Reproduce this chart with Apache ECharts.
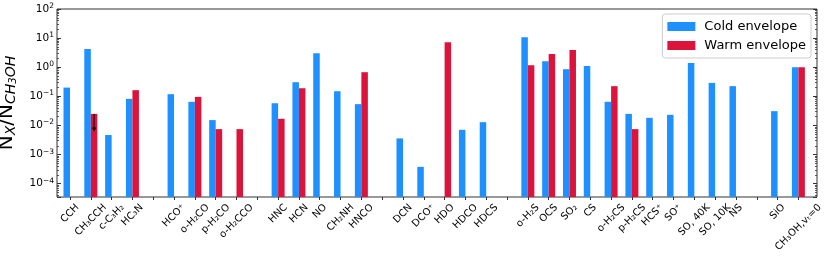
<!DOCTYPE html>
<html><head><meta charset="utf-8">
<script src="https://cdn.jsdelivr.net/npm/echarts@6/dist/echarts.min.js"></script>
<style>html,body{margin:0;padding:0;background:#fff}#c{width:830px;height:262px}</style>
</head><body><div id="c"></div>
<script>
// ---- data ----
const categories = ['CCH','CH₃CCH','c-C₃H₂','HC₃N','_1',
  'HCO⁺','o-H₂CO','p-H₂CO','o-H₂CCO','_2',
  'HNC','HCN','NO','CH₂NH','HNCO','_3',
  'DCN','DCO⁺','HDO','HDCO','HDCS','_4',
  'o-H₂S','OCS','SO₂','CS','o-H₂CS','p-H₂CS','HCS⁺','SO⁺','SO, 40K','SO, 10K','NS','_5',
  'SiO','CH₃OH,vₜ=0'];
const coldValues = [0.20, 4.25, 0.0047, 0.082, null,
  0.119, 0.065, 0.0153, null, null,
  0.058, 0.306, 3.0, 0.15, 0.054, null,
  0.0036, 0.00038, null, 0.0071, 0.013, null,
  10.7, 1.6, 0.855, 1.11, 0.065, 0.025, 0.0183, 0.0232, 1.41, 0.29, 0.224, null,
  0.031, 1.0];
const warmValues = [null, 0.025, null, 0.163, null,
  null, 0.096, 0.0075, 0.0075, null,
  0.017, 0.19, null, null, 0.676, null,
  null, null, 7.2, null, null, null,
  1.17, 2.87, 3.93, null, 0.224, 0.0075, null, null, null, null, null, null,
  null, 1.0];
// upper limit arrow: [category index, from value, to value]
const upperLimits = [[1, 0.025, 0.0062]];
const seriesNames = ['Cold envelope', 'Warm envelope'];
const yMin = 3.5e-5, yMax = 100;

// ---- styles ----
const FONT = 'DejaVu Sans';
const BLUE = '#1E90FF', RED = '#DC143C', AX = '#333';
const BAR_W = 6.5;
const LABEL_FS = 10;

const ctx = document.createElement('canvas').getContext('2d');
ctx.font = LABEL_FS + 'px "' + FONT + '"';
const labelWidths = categories.map(c => c.startsWith('_') ? 0 : ctx.measureText(c).width);

const gridTop = 9, gridH = 188;
const chart = echarts.init(document.getElementById('c'), null, { renderer: 'canvas' });

function yLabel(v) {
  const l = Math.log10(v);
  const e = Math.round(l);
  if (Math.abs(l - e) > 1e-6) return '';
  return '{b|10}{s|' + (e < 0 ? '\u2212' : '') + Math.abs(e) + '}';
}

const option = {
  animation: false,
  backgroundColor: '#fff',
  textStyle: { fontFamily: FONT },
  grid: [
    { left: 57, top: gridTop, width: 760, height: gridH, show: true, borderColor: AX, borderWidth: 1, backgroundColor: 'transparent', containLabel: false, outerBoundsMode: 'none' },
    { left: 59.6, top: gridTop, width: 749.2, height: gridH, show: false, containLabel: false, outerBoundsMode: 'none' }
  ],
  legend: {
    orient: 'vertical', right: 19, top: 14,
    data: seriesNames,
    icon: 'rect', itemWidth: 28, itemHeight: 9, itemGap: 4,
    padding: [5, 5, 5, 5],
    borderColor: '#ccc', borderWidth: 1, borderRadius: 3, backgroundColor: '#fff',
    textStyle: { fontFamily: FONT, fontSize: 13, color: '#000', lineHeight: 15, padding: [0, 0, 0, 4] }
  },
  xAxis: [
    { gridIndex: 0, type: 'value', min: 0, max: 1, show: false },
    { gridIndex: 1, type: 'category', data: categories, boundaryGap: true,
      axisLine: { show: false },
      axisTick: { show: true, alignWithLabel: true, interval: 0, length: 3, inside: false, lineStyle: { color: AX, width: 1 } },
      axisLabel: { show: false },
      splitLine: { show: false } }
  ],
  yAxis: [
    { gridIndex: 0, type: 'log', logBase: 10, min: yMin, max: yMax, position: 'left',
      axisLine: { show: false },
      axisTick: { show: true, inside: true, length: 4, lineStyle: { color: AX, width: 1 } },
      minorTick: { show: true, splitNumber: 9, length: 2, lineStyle: { color: AX, width: 0.8 } },
      splitLine: { show: false },
      axisLabel: { show: true, margin: 3, formatter: yLabel, color: '#000',
        rich: { b: { fontFamily: FONT, fontSize: 10.5, color: '#000', lineHeight: 14 },
                s: { fontFamily: FONT, fontSize: 7.5, color: '#000', lineHeight: 7, verticalAlign: 'top' } } },
      name: '{m|N}{s|X}{m|/N}{s|CH}{ss|3}{s|OH}',
      nameLocation: 'middle', nameRotate: 90, nameGap: 32,
      nameTextStyle: { rich: {
        m: { fontFamily: FONT, fontSize: 20, color: '#000', lineHeight: 24 },
        s: { fontFamily: FONT, fontSize: 14, fontStyle: 'italic', color: '#000', lineHeight: 14, verticalAlign: 'bottom' },
        ss: { fontFamily: FONT, fontSize: 10, fontStyle: 'italic', color: '#000', lineHeight: 7, verticalAlign: 'bottom' } } } },
    { gridIndex: 0, type: 'log', logBase: 10, min: yMin, max: yMax, position: 'right',
      axisLine: { show: false },
      axisTick: { show: true, inside: true, length: 4, lineStyle: { color: AX, width: 1 } },
      minorTick: { show: true, splitNumber: 9, length: 2, lineStyle: { color: AX, width: 0.8 } },
      splitLine: { show: false }, axisLabel: { show: false } },
    { gridIndex: 1, type: 'log', logBase: 10, min: yMin, max: yMax, startValue: yMin, show: false,
      splitLine: { show: false } }
  ],
  series: [
    { name: seriesNames[0], type: 'bar', xAxisIndex: 1, yAxisIndex: 2, data: coldValues,
      barWidth: BAR_W, barGap: '0%', itemStyle: { color: BLUE } },
    { name: seriesNames[1], type: 'bar', xAxisIndex: 1, yAxisIndex: 2, data: warmValues,
      barWidth: BAR_W, barGap: '0%', itemStyle: { color: RED } },
    { type: 'custom', xAxisIndex: 1, yAxisIndex: 2, data: upperLimits, z: 5,
      encode: { x: 0, y: [1, 2] },
      renderItem: (params, api) => {
        const cat = api.value(0);
        const p1 = api.coord([cat, api.value(1)]);
        const p2 = api.coord([cat, api.value(2)]);
        const x = p1[0] + BAR_W / 2;
        return { type: 'group', children: [
          { type: 'line', shape: { x1: x, y1: p1[1], x2: x, y2: p2[1] - 3 }, style: { stroke: '#000', lineWidth: 1 } },
          { type: 'polygon', shape: { points: [[x - 2.2, p2[1] - 4], [x + 2.2, p2[1] - 4], [x, p2[1]]] }, style: { fill: '#000' } }
        ] };
      } },
    // category tick labels, rotated 45° and centred on their ticks
    { type: 'custom', xAxisIndex: 1, yAxisIndex: 2, clip: false, silent: true, z: 6,
      data: categories.map((c, i) => [i, yMin]),
      encode: { x: 0, y: 1 },
      renderItem: (params, api) => {
        const i = api.value(0);
        const text = categories[i];
        if (text.startsWith('_')) return null;
        const p = api.coord([i, yMin]);
        const w = labelWidths[i];
        return { type: 'text', x: p[0], y: p[1] + 6.3 + 0.354 * (w + 7.3), rotation: Math.PI / 4,
          style: { text: text, fontFamily: FONT, fontSize: LABEL_FS, fill: '#000', align: 'center', verticalAlign: 'middle' } };
      } }
  ]
};
chart.setOption(option);
</script>
</body></html>
